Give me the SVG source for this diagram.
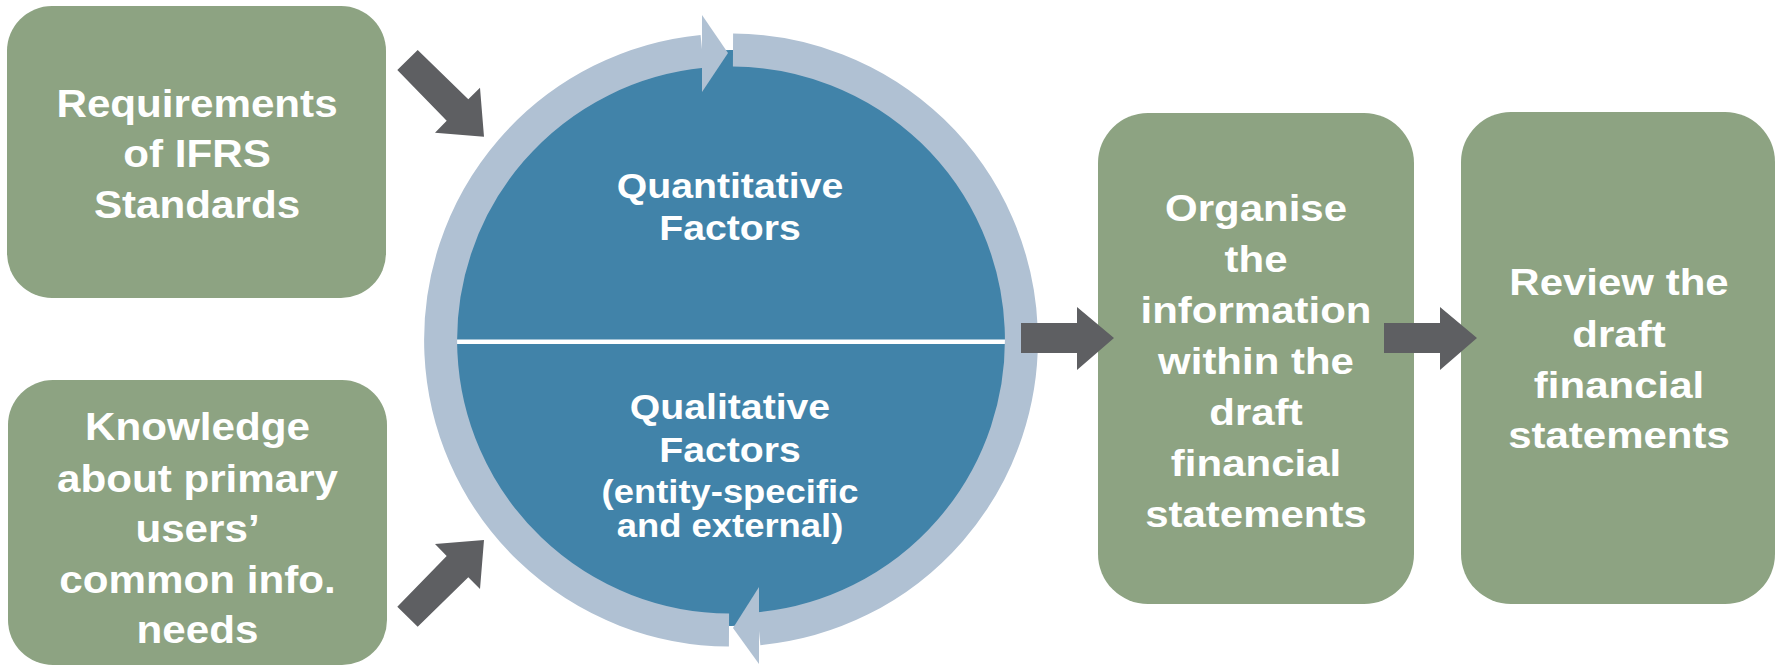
<svg xmlns="http://www.w3.org/2000/svg" width="1777" height="667" viewBox="0 0 1777 667">
  <style>
    .box { fill: #8da382; }
    .lbl { font-family: "Liberation Sans", Arial, sans-serif; font-weight: bold; fill: #ffffff; text-anchor: middle; }
    .big { font-size: 38px; }
    .mid { font-size: 37.5px; }
    .cir { font-size: 35px; }
    .sm { font-size: 32.5px; }
    .ring { fill: none; stroke: #b0c1d3; stroke-width: 33; }
    .ringhead { fill: #b0c1d3; }
    .flow { fill: #5e5f62; }
  </style>

  <!-- Central cycle: blue disc, divider and circular arrows -->
  <g id="cycle">
    <circle cx="731" cy="338" r="288" fill="#4183a9"/>
    <rect x="456" y="339.5" width="550" height="4.5" fill="#ffffff"/>
    <path class="ring" d="M729 630 A290 290 0 0 1 702.2 51.4"/>
    <polygon class="ringhead" points="702,15 728,53 702,92"/>
    <path class="ring" d="M733 50 A290 290 0 0 1 758.8 628.7"/>
    <polygon class="ringhead" points="759,587 733,628 759,664"/>
    <g transform="translate(730 0) scale(1.12 1)">
      <text class="lbl cir" x="0" y="198">Quantitative</text>
      <text class="lbl cir" x="0" y="240">Factors</text>
      <text class="lbl cir" x="0" y="419">Qualitative</text>
      <text class="lbl cir" x="0" y="462">Factors</text>
      <text class="lbl sm" x="0" y="503">(entity-specific</text>
      <text class="lbl sm" x="0" y="537">and external)</text>
    </g>
  </g>

  <!-- Input: requirements -->
  <g id="requirements">
    <rect class="box" x="7" y="6" width="379" height="292" rx="45"/>
    <g transform="translate(197 0) scale(1.11 1)">
      <text class="lbl big" x="0" y="117">Requirements</text>
      <text class="lbl big" x="0" y="167">of IFRS</text>
      <text class="lbl big" x="0" y="218">Standards</text>
    </g>
  </g>

  <!-- Input: knowledge of users -->
  <g id="knowledge">
    <rect class="box" x="8" y="380" width="379" height="285" rx="45"/>
    <g transform="translate(197.5 0) scale(1.11 1)">
      <text class="lbl big" x="0" y="440">Knowledge</text>
      <text class="lbl big" x="0" y="492">about primary</text>
      <text class="lbl big" x="0" y="542">users’</text>
      <text class="lbl big" x="0" y="593">common info.</text>
      <text class="lbl big" x="0" y="643">needs</text>
    </g>
  </g>

  <!-- Step: organise -->
  <g id="organise">
    <rect class="box" x="1098" y="113" width="316" height="491" rx="50"/>
    <g transform="translate(1256 0) scale(1.12 1)">
      <text class="lbl mid" x="0" y="221">Organise</text>
      <text class="lbl mid" x="0" y="272">the</text>
      <text class="lbl mid" x="0" y="323">information</text>
      <text class="lbl mid" x="0" y="374">within the</text>
      <text class="lbl mid" x="0" y="425">draft</text>
      <text class="lbl mid" x="0" y="476">financial</text>
      <text class="lbl mid" x="0" y="527">statements</text>
    </g>
  </g>

  <!-- Step: review -->
  <g id="review">
    <rect class="box" x="1461" y="112" width="314" height="492" rx="50"/>
    <g transform="translate(1619 0) scale(1.12 1)">
      <text class="lbl mid" x="0" y="295">Review the</text>
      <text class="lbl mid" x="0" y="347">draft</text>
      <text class="lbl mid" x="0" y="398">financial</text>
      <text class="lbl mid" x="0" y="448">statements</text>
    </g>
  </g>

  <!-- Block arrows between the stages -->
  <g id="connectors">
    <polygon class="flow" points="417.7,50 468.3,99.3 480,87.7 484,136.7 435,132.7 446.7,120.7 397.3,70"/>
    <polygon class="flow" points="484,540 435,544 446.7,556 397.3,606.7 417.7,626.7 468.3,577.3 480,589"/>
    <polygon class="flow" points="1021,323 1077,323 1077,307 1114,338 1077,370 1077,353 1021,353"/>
    <polygon class="flow" points="1384,323 1440,323 1440,307 1477,338 1440,370 1440,353 1384,353"/>
  </g>
</svg>
